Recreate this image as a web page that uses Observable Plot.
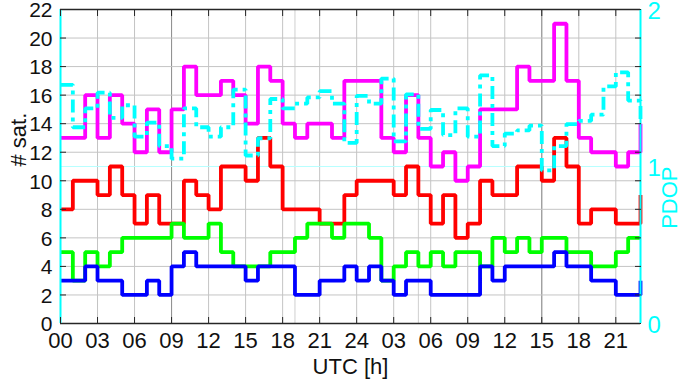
<!DOCTYPE html>
<html>
<head>
<meta charset="utf-8">
<script src="https://cdn.jsdelivr.net/npm/d3@7"></script>
<script src="https://cdn.jsdelivr.net/npm/@observablehq/plot@0.6"></script>
<style>
  html, body { margin: 0; padding: 0; background: #ffffff; }
  #chart { width: 685px; height: 386px; }
</style>
</head>
<body>
<div id="chart"></div>
<script>
// ---- data ----
const hours = [0,1,2,3,4,5,6,7,8,9,10,11,12,13,14,15,16,17,18,19,20,21,22,23,
               24,25,26,27,28,29,30,31,32,33,34,35,36,37,38,39,40,41,42,43,44,45,46,47];
const xTicks = [0,3,6,9,12,15,18,21,24,27,30,33,36,39,42,45];
const xTickLabels = ["00","03","06","09","12","15","18","21","24","03","06","09","12","15","18","21"];
const xExtraGrid = [19, 29];
const xDarkGrid = [9, 39];
const yTicks = [0,2,4,6,8,10,12,14,16,18,20,22];
const pdopTicks = [0,1,2];

const satMagenta = [13,13,16,13,16,14,12,15,12,15,18,16,16,17,16,14,18,17,14,13,14,14,13,17,
                    17,17,13,12,16,13,11,12,10,11,15,15,15,18,17,17,21,17,13,12,12,11,12,14];
const satRed     = [8,10,10,9,11,9,7,9,7,7,10,9,8,11,11,10,13,11,8,8,8,7,7,9,
                    10,10,10,9,11,9,7,9,6,7,10,9,9,11,11,10,13,11,7,8,8,7,7,9];
const satGreen   = [5,3,5,4,5,6,6,6,6,7,6,6,7,5,4,4,4,5,5,6,7,7,6,7,
                    7,6,3,4,5,4,5,4,5,5,4,6,5,6,5,6,6,5,5,4,4,5,6,6];
const satBlue    = [3,3,4,3,3,2,2,3,2,4,5,4,4,4,4,3,4,4,4,2,2,3,3,4,
                    3,4,3,2,3,3,2,2,2,2,4,3,4,4,4,4,5,4,4,3,3,2,2,3];
const pdop       = [1.52,1.25,1.37,1.47,1.31,1.39,1.19,1.28,1.13,1.05,1.37,1.25,1.19,1.25,1.49,1.07,
                    1.18,1.43,1.37,1.40,1.44,1.48,1.40,1.15,1.45,1.40,1.56,1.16,1.46,1.24,1.36,1.20,
                    1.37,1.19,1.58,1.13,1.21,1.23,1.26,0.975,1.13,1.27,1.29,1.33,1.51,1.60,1.42,1.30];

const satMax = 22, pdopMax = 2;
const toLeft = p => p * satMax / pdopMax;   // PDOP axis -> # sat. axis

const series = [
  {name: "magenta", color: "#ff00ff", values: satMagenta},
  {name: "red",     color: "#ff0000", values: satRed},
  {name: "green",   color: "#00ff00", values: satGreen},
  {name: "blue",    color: "#0000ff", values: satBlue}
];
const pdopRows = hours.map((h, i) => ({h, v: toLeft(pdop[i])}));

const lineOpts = {curve: "step-after", strokeWidth: 3.8, strokeLinejoin: "miter", strokeLinecap: "butt"};

const marks = [
  Plot.gridX(xTicks, {stroke: "#c4c4c4", strokeOpacity: 1, strokeWidth: 1}),
  Plot.gridX(xExtraGrid, {stroke: "#cfcfcf", strokeOpacity: 1, strokeWidth: 1}),
  Plot.gridX(xDarkGrid, {stroke: "#8f8f8f", strokeOpacity: 1, strokeWidth: 1}),
  Plot.gridY(yTicks, {stroke: "#c4c4c4", strokeOpacity: 1, strokeWidth: 1}),
  Plot.ruleY([toLeft(1)], {stroke: "#b8ffff", strokeWidth: 1})
];
for (const s of series) {
  marks.push(Plot.line(hours.map((h, i) => ({h, v: s.values[i]})),
    {x: "h", y: "v", stroke: s.color, ...lineOpts}));
}
marks.push(Plot.line(pdopRows, {x: "h", y: "v", stroke: "#00ffff", strokeDasharray: "13,5,4,5", ...lineOpts}));

// frame
marks.push(
  Plot.ruleY([satMax], {stroke: "#262626", strokeWidth: 1.5}),
  Plot.ruleY([0], {stroke: "#262626", strokeWidth: 1.5}),
  Plot.ruleX([0], {stroke: "#00ffff", strokeWidth: 2}),
  Plot.ruleX([47], {stroke: "#00ffff", strokeWidth: 2})
);

// inward ticks
marks.push(
  Plot.axisX({anchor: "bottom", ticks: xTicks, tickSize: -6, tickFormat: () => "", label: null, stroke: "#262626"}),
  Plot.axisX({anchor: "top", ticks: xTicks, tickSize: -6, tickFormat: () => "", label: null, stroke: "#262626"}),
  Plot.axisY({anchor: "left", ticks: yTicks, tickSize: -6, tickFormat: () => "", label: null, stroke: "#262626"}),
  Plot.axisY({anchor: "right", ticks: yTicks, tickSize: -6, tickFormat: () => "", label: null, stroke: "#262626"})
);

// tick labels
marks.push(
  Plot.axisX({anchor: "bottom", ticks: xTicks, tickSize: 0, tickPadding: 9,
              tickFormat: (d) => xTickLabels[xTicks.indexOf(d)], label: null, fill: "#111111"}),
  Plot.axisY({anchor: "left", ticks: yTicks, tickSize: 0, tickPadding: 8, dy: 1,
              tickFormat: d => String(d), label: null, fill: "#111111", fontSize: 21}),
  Plot.axisY({anchor: "right", ticks: pdopTicks.map(toLeft), tickSize: 0, tickPadding: 7, dy: 2,
              tickFormat: d => String(pdopTicks[pdopTicks.map(toLeft).indexOf(d)]),
              label: null, fill: "#00ffff", fontSize: 24})
);

// axis titles
marks.push(
  Plot.text(["UTC [h]"], {frameAnchor: "bottom", dy: 50, fill: "#111111", fontSize: 22}),
  Plot.text(["# sat."], {frameAnchor: "left", dx: -42, rotate: -90, fill: "#111111", fontSize: 22}),
  Plot.text(["PDOP"], {frameAnchor: "right", dx: 29, rotate: -90, fill: "#00ffff", fontSize: 22})
);

const chart = Plot.plot({
  width: 685,
  height: 386,
  marginLeft: 60,
  marginRight: 45,
  marginTop: 9,
  marginBottom: 63,
  x: {domain: [0, 47]},
  y: {domain: [0, satMax]},
  style: {fontFamily: "'Liberation Sans', Arial, sans-serif", fontSize: "22px", background: "#ffffff", color: "#111111"},
  marks
});
document.getElementById("chart").appendChild(chart);
</script>
</body>
</html>
